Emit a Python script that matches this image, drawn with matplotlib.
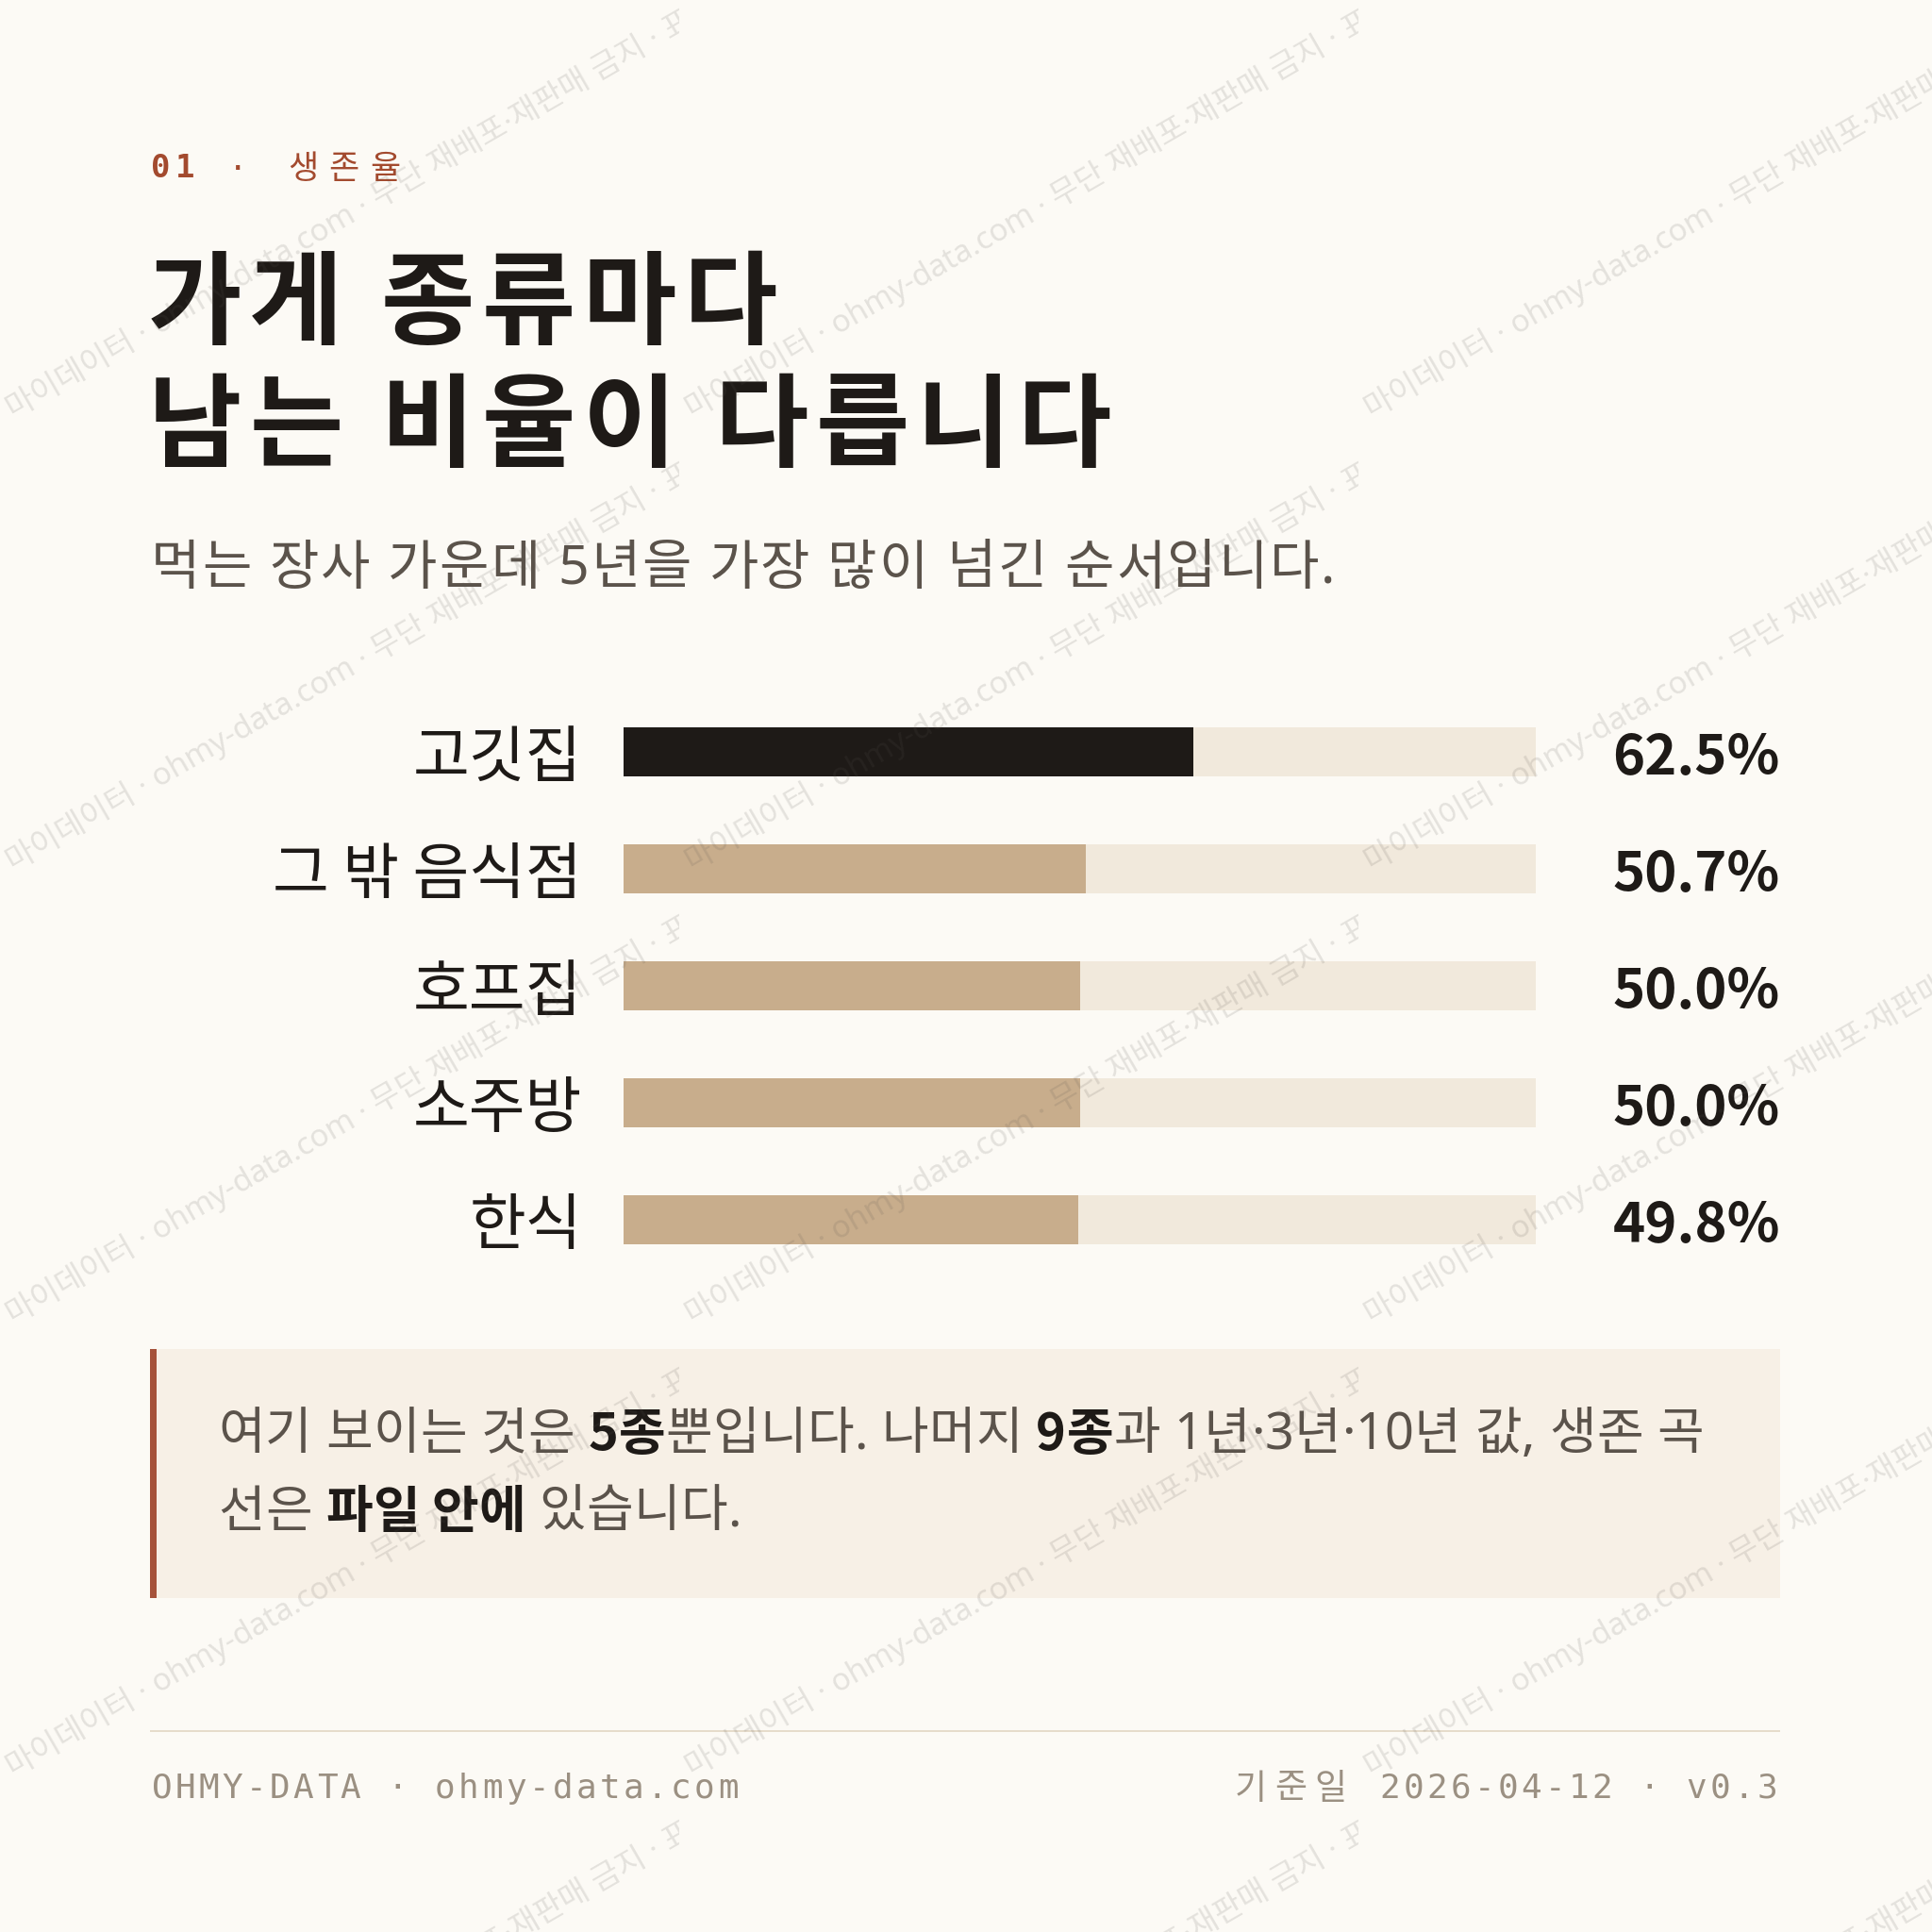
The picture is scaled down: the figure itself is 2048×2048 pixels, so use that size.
import matplotlib
matplotlib.use('Agg')
import matplotlib.pyplot as plt
import matplotlib.transforms as mtransforms
from matplotlib.patches import Rectangle

# ----------- Dados -----------

categorias = ['고깃집', '그 밖 음식점', '호프집', '소주방', '한식']
sobrevivencia_5a = [62.5, 50.7, 50.0, 50.0, 49.8]
destaque = [True, False, False, False, False]

kicker_num = '01'
kicker_txt = '생존율'
titulo = ['가게 종류마다', '남는 비율이 다릅니다']
subtitulo = '먹는 장사 가운데 5년을 가장 많이 넘긴 순서입니다.'
nota = [
    [('여기 보이는 것은 ', False), ('5종', True), ('뿐입니다. 나머지 ', False),
     ('9종', True), ('과 1년·3년·10년 값, 생존 곡', False)],
    [('선은 ', False), ('파일 안에', True), (' 있습니다.', False)],
]
rodape_esq = 'OHMY-DATA · ohmy-data.com'
rodape_data_label = '기준일'
rodape_dir = '2026-04-12 · v0.3'
marca = '마이데이터 · ohmy-data.com · 무단 재배포·재판매 금지 · 표본 데이터'

# ----------- Cores -----------

BG = '#fcfaf5'
INK = '#1e1a17'
TAN = '#c8ad8c'
TRACK = '#f1e9dc'
RUST = '#a34a2e'
MUTED = '#5b534b'
FOOT = '#9b9082'
NOTE_BG = '#f7f0e6'
RULE = '#e6dccb'

plt.rcParams['font.family'] = ['Noto Sans CJK KR', 'DejaVu Sans']
MONO = ['DejaVu Sans Mono']
CJK = ['Noto Sans CJK KR', 'DejaVu Sans']
MIX = ['Noto Sans', 'Noto Sans CJK KR', 'DejaVu Sans']


def pt(px):
    return px * 0.72


fig = plt.figure(figsize=(20.48, 20.48), dpi=100, facecolor=BG)
ax = fig.add_axes([0, 0, 1, 1])
ax.set_xlim(0, 2048)
ax.set_ylim(2048, 0)
ax.axis('off')

fig.canvas.draw()
rend = fig.canvas.get_renderer()


def largura(s, **kw):
    t = ax.text(0, 0, s + '|', **kw)
    w1 = t.get_window_extent(rend).width
    t.remove()
    t = ax.text(0, 0, '|', **kw)
    w2 = t.get_window_extent(rend).width
    t.remove()
    return w1 - w2


def espacado(x, y, s, pitch, **kw):
    for i, ch in enumerate(s):
        if ch != ' ':
            ax.text(x + i * pitch + pitch / 2, y, ch, ha='center', va='center', **kw)


def com_tracking(x, y, s, track, **kw):
    for ch in s:
        if ch != ' ':
            ax.text(x, y, ch, ha='left', va='center', **kw)
        x += largura(ch, **kw) + track
    return x


# ----------- Cabeçalho -----------

espacado(157, 179, kicker_num, 26, family=MONO, weight='bold', fontsize=pt(34), color=RUST)
ax.text(252, 179, '·', ha='center', va='center', fontsize=pt(34), color=RUST, family=MONO)
for i, ch in enumerate(kicker_txt):
    ax.text(321 + i * 43.5, 179, ch, ha='center', va='center', fontsize=pt(35), color=RUST)

com_tracking(157, 325, titulo[0], 7.8, fontsize=pt(108), weight='bold', color=INK, family=CJK)
com_tracking(157, 455, titulo[1], 7.8, fontsize=pt(108), weight='bold', color=INK, family=CJK)

com_tracking(160, 604, subtitulo, 2.0, fontsize=pt(57), color=MUTED, family=MIX)

# ----------- Barras -----------

esq, dir_, topo, base = 661, 1628, 735, 1355
axb = fig.add_axes([esq / 2048, 1 - base / 2048, (dir_ - esq) / 2048, (base - topo) / 2048])
axb.set_facecolor('none')
y = list(range(len(categorias)))
cores = [INK if d else TAN for d in destaque]
axb.barh(y, [100] * len(categorias), height=0.42, color=TRACK, linewidth=0)
axb.barh(y, sobrevivencia_5a, height=0.42, color=cores, linewidth=0)
axb.set_xlim(0, 100)
axb.set_ylim(len(categorias) - 0.5, -0.5)
axb.set_yticks(y)
axb.set_yticklabels(categorias, fontsize=pt(65), color=INK)
axb.tick_params(axis='y', length=0, pad=pt(44))
axb.set_xticks([])
for s in axb.spines.values():
    s.set_visible(False)

trans = mtransforms.blended_transform_factory(axb.transAxes, axb.transData)
x_val = (1887 - esq) / (dir_ - esq)
for i, v in enumerate(sobrevivencia_5a):
    axb.text(x_val, i + 0.06, f'{v:.1f}%', transform=trans, ha='right', va='center',
             fontsize=pt(58), weight='bold', color=INK, family=CJK)

# ----------- Nota -----------

ax.add_patch(Rectangle((159, 1430), 1728, 264, facecolor=NOTE_BG, edgecolor='none'))
ax.add_patch(Rectangle((159, 1430), 7, 264, facecolor='#a5523a', edgecolor='none'))

for linha, yy in zip(nota, [1522, 1604]):
    x = 231
    for texto, negrito in linha:
        if negrito:
            kw = dict(fontsize=pt(54), color=INK, weight='bold', family=CJK)
        else:
            kw = dict(fontsize=pt(54), color=MUTED, family=MIX)
        x = com_tracking(x, yy, texto, 0.3, **kw)

# ----------- Rodapé -----------

ax.plot([159, 1887], [1835, 1835], color=RULE, linewidth=pt(2), solid_capstyle='butt')
espacado(159, 1896, rodape_esq, 25, family=MONO, fontsize=pt(36), color=FOOT)
espacado(1886 - 25 * len(rodape_dir), 1896, rodape_dir, 25, family=MONO, fontsize=pt(36), color=FOOT)
for i, ch in enumerate(rodape_data_label):
    ax.text(1326 + i * 42, 1896, ch, ha='center', va='center', fontsize=pt(37), color=FOOT)

# ----------- Marca d'água -----------

axw = fig.add_axes([0, 0, 1, 1])
axw.set_xlim(0, 2048)
axw.set_ylim(2048, 0)
axw.axis('off')
axw.set_facecolor('none')
for i in range(0, 3):
    for j in range(-1, 5):
        x0 = 720 * i
        yb = 444 + 480 * j
        clip = Rectangle((x0, yb - 474), 720, 480, transform=axw.transData)
        t = axw.text(x0 + 14, yb, marca, rotation=30, rotation_mode='anchor', ha='left',
                     va='baseline', fontsize=pt(33), color='#5a5550', alpha=0.15, family=MIX)
        t.set_clip_path(clip)
        t.set_clip_on(True)

fig.savefig('out.png', dpi=100, facecolor=BG)
